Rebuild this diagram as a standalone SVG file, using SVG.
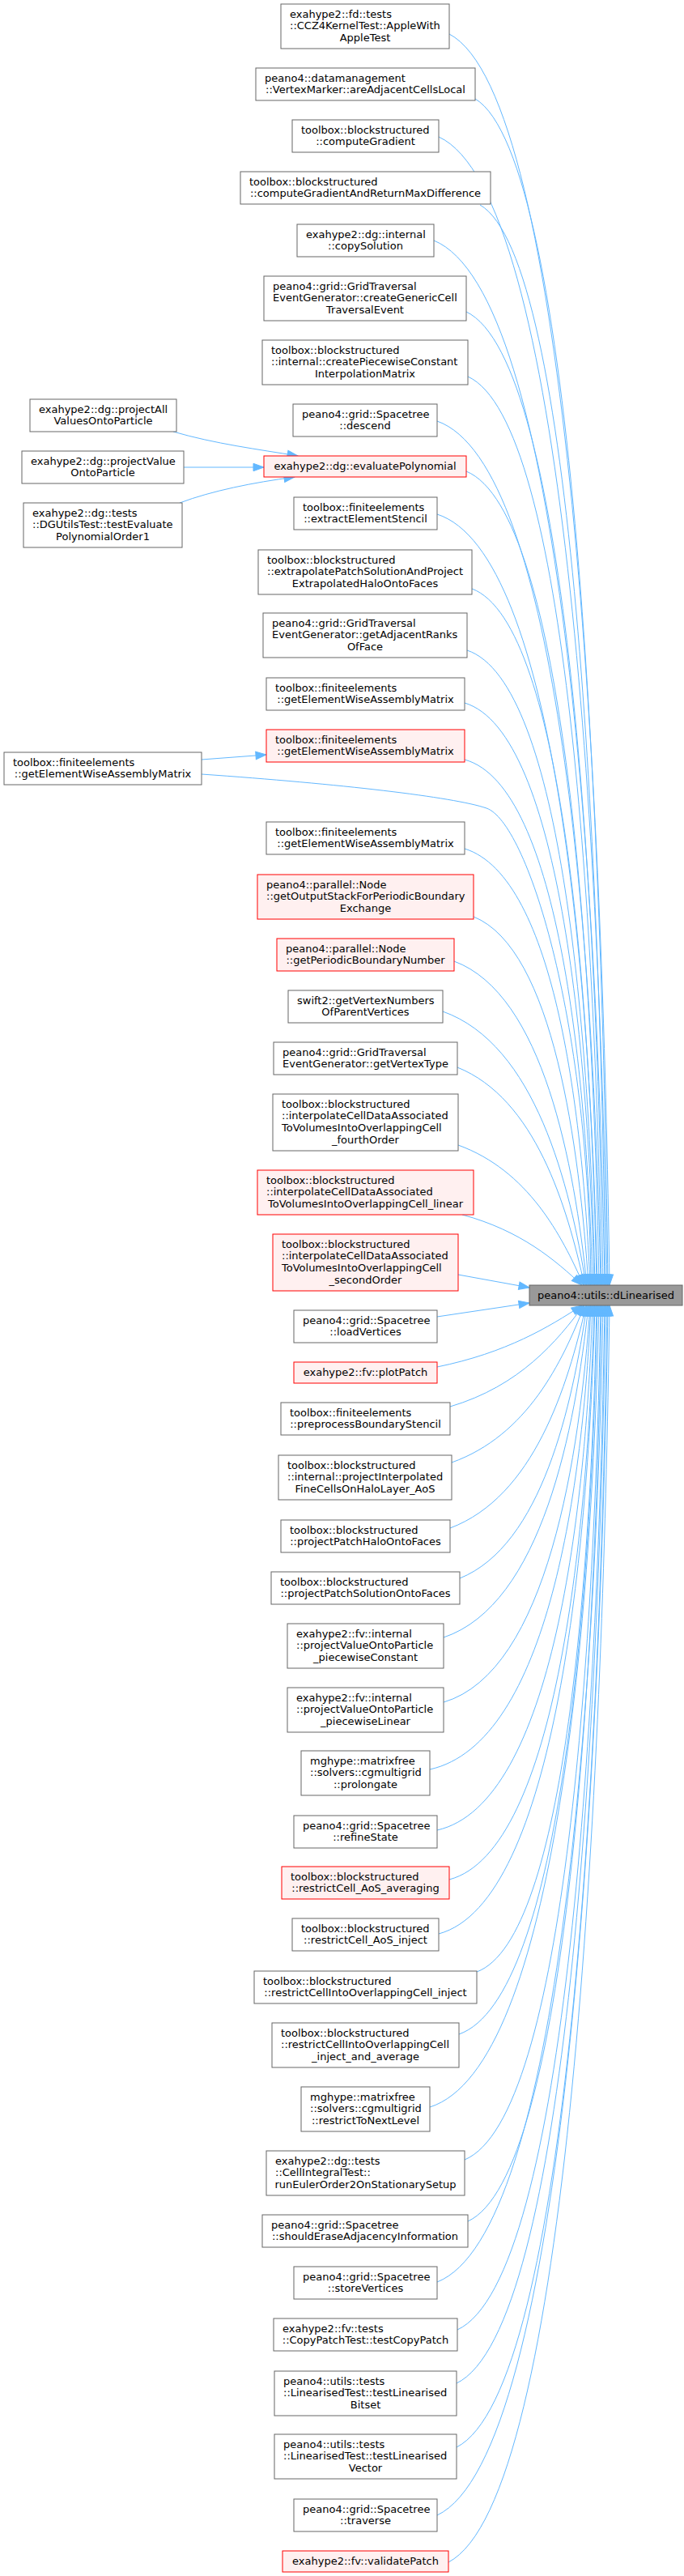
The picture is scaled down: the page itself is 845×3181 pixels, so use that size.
<svg xmlns="http://www.w3.org/2000/svg" width="845" height="3181" viewBox="0 0 845 3181">
<style>
text{font-family:"DejaVu Sans","Liberation Sans",sans-serif;font-size:13px;fill:#000}
.c{text-anchor:middle}
.n rect{fill:#fff;stroke:#666;stroke-width:1}
.r rect{fill:#fff0f0;stroke:#ff0000;stroke-width:1}
.m rect{fill:#999;stroke:#666;stroke-width:1}
.e path{fill:none;stroke:#63b8ff;stroke-width:1;marker-end:url(#a)}
</style>
<defs>
<marker id="a" markerUnits="userSpaceOnUse" viewBox="-14 -6 15 12" markerWidth="15" markerHeight="12" refX="0" refY="0" orient="auto">
<path d="M0,0 L-13,-4.7 L-13,4.7 Z" fill="#63b8ff" stroke="#63b8ff" stroke-width="1"/>
</marker>
</defs>
<rect width="845" height="3181" fill="#fff"/>
<g id="edges" class="e">
<path d="M214,533 C265,548 320,555 368,563"/>
<path d="M227,577 L326,577"/>
<path d="M222,621 C262,606 312,596 364,589"/>
<path d="M249,938 L329,932"/>
<path d="M249,956 C420,968 560,984 601,998 C650,1015 727,1250 730,1587"/>
<path d="M555,42 C703.5,119.3 745.1,999.9 753,1587"/>
<path d="M587,122 C710,195.3 744.4,1030.3 751,1587"/>
<path d="M542,169 C698,239.9 741.7,1048.2 750,1587"/>
<path d="M593,253 C709.3,319.7 741.8,1080.1 748,1587"/>
<path d="M536,297 C694.3,361.5 738.6,1096.8 747,1587"/>
<path d="M576,385 C702.8,445.1 738.2,1130.2 745,1587"/>
<path d="M578,465 C701.8,521.1 736.4,1160.6 743,1587"/>
<path d="M540,520 C691.5,573.4 733.9,1181.5 742,1587"/>
<path d="M576,582 C699,632.3 733.4,1205.1 740,1587"/>
<path d="M540,635 C688.5,682.6 730.1,1225.2 738,1587"/>
<path d="M583,727 C698.5,770 730.8,1260.2 737,1587"/>
<path d="M577,803 C695.5,842.2 728.7,1289.1 735,1587"/>
<path d="M574,868 C694,904 727.6,1313.8 734,1587"/>
<path d="M574,938 C692.5,970.5 725.7,1340.4 732,1587"/>
<path d="M574,1048 C686.8,1083 720.5,1383.3 729,1587"/>
<path d="M585,1132 C683.8,1171.6 715.9,1416.8 727,1587"/>
<path d="M561,1187 C671.4,1227.8 709.6,1438.6 725,1587"/>
<path d="M547,1249 C661.3,1289.6 704,1462.6 724,1587"/>
<path d="M565,1318 C661.1,1356.5 700.5,1489.1 722,1587"/>
<path d="M566,1414 C652.3,1445.3 693.7,1525.1 721,1587"/>
<path d="M571,1500 C643.8,1519.6 686.3,1556.5 719,1587"/>
<path d="M566,1574 L654,1590"/>
<path d="M540,1626 L654,1609"/>
<path d="M540,1688 C626.1,1670.4 678,1638.6 719,1612"/>
<path d="M556,1737 C642.3,1711.5 688.2,1656.2 721,1612"/>
<path d="M558,1806 C651.5,1772.6 694.8,1681.8 722,1612"/>
<path d="M556,1887 C659.3,1848.2 701.3,1712.4 724,1612"/>
<path d="M568,1949 C669.3,1908.2 707.1,1736 725,1612"/>
<path d="M548,2022 C669.4,1981.4 710.7,1764.5 727,1612"/>
<path d="M548,2102 C676.5,2064.3 716.7,1795.7 729,1612"/>
<path d="M531,2185 C678.3,2152.3 720.6,1829.2 730,1612"/>
<path d="M540,2260 C684,2227.6 724.3,1858.2 732,1612"/>
<path d="M555,2321 C689.3,2285.6 726.8,1881.4 734,1612"/>
<path d="M542,2388 C686.8,2349.2 727.3,1906.9 735,1612"/>
<path d="M589,2435 C700,2393.9 731.1,1924.7 737,1612"/>
<path d="M567,2512 C695.3,2467 731.2,1954 738,1612"/>
<path d="M531,2602 C687.8,2552.5 731.6,1988.2 740,1612"/>
<path d="M574,2667 C700,2614.3 735.3,2012.9 742,1612"/>
<path d="M578,2743 C701.8,2686.5 736.4,2041.8 743,1612"/>
<path d="M540,2818 C693.8,2757.7 736.8,2070.3 745,1612"/>
<path d="M565,2877 C701.5,2813.8 739.7,2092.7 747,1612"/>
<path d="M564,2943 C702,2876.5 740.6,2117.8 748,1612"/>
<path d="M564,3022 C703.5,2951.5 742.6,2147.8 750,1612"/>
<path d="M540,3106 C698.3,3031.3 742.6,2179.7 751,1612"/>
<path d="M554,3164 C703.3,3086.4 745,2201.8 753,1612"/>
</g>
<g id="main" class="m"><rect x="654" y="1587" width="189" height="25"/><text class="c" x="748.5" y="1603.5">peano4::utils::dLinearised</text></g>
<g id="nA" class="n"><rect x="37" y="493" width="181" height="40"/><text x="48" y="509.6">exahype2::dg::projectAll</text><text class="c" x="127.5" y="524.3">ValuesOntoParticle</text></g>
<g id="nB" class="n"><rect x="27" y="557" width="200" height="40"/><text x="38" y="573.6">exahype2::dg::projectValue</text><text class="c" x="127" y="588.3">OntoParticle</text></g>
<g id="nC" class="n"><rect x="29" y="621" width="196" height="55"/><text x="40" y="637.6">exahype2::dg::tests</text><text x="40" y="652.3">::DGUtilsTest::testEvaluate</text><text class="c" x="127" y="666.9">PolynomialOrder1</text></g>
<g id="nD" class="n"><rect x="5" y="929" width="244" height="40"/><text x="16" y="945.6">toolbox::finiteelements</text><text class="c" x="127" y="960.3">::getElementWiseAssemblyMatrix</text></g>
<g id="n1" class="n"><rect x="347" y="5" width="208" height="55"/><text x="358" y="21.6">exahype2::fd::tests</text><text x="358" y="36.3">::CCZ4KernelTest::AppleWith</text><text class="c" x="451" y="50.9">AppleTest</text></g>
<g id="n2" class="n"><rect x="316" y="84" width="271" height="40"/><text x="327" y="100.6">peano4::datamanagement</text><text class="c" x="451.5" y="115.3">::VertexMarker::areAdjacentCellsLocal</text></g>
<g id="n3" class="n"><rect x="361" y="148" width="181" height="40"/><text x="372" y="164.6">toolbox::blockstructured</text><text class="c" x="451.5" y="179.3">::computeGradient</text></g>
<g id="n4" class="n"><rect x="297" y="212" width="309" height="40"/><text x="308" y="228.6">toolbox::blockstructured</text><text class="c" x="451.5" y="243.3">::computeGradientAndReturnMaxDifference</text></g>
<g id="n5" class="n"><rect x="367" y="277" width="169" height="40"/><text x="378" y="293.6">exahype2::dg::internal</text><text class="c" x="451.5" y="308.3">::copySolution</text></g>
<g id="n6" class="n"><rect x="326" y="341" width="250" height="55"/><text x="337" y="357.6">peano4::grid::GridTraversal</text><text x="337" y="372.3">EventGenerator::createGenericCell</text><text class="c" x="451" y="386.9">TraversalEvent</text></g>
<g id="n7" class="n"><rect x="324" y="420" width="254" height="55"/><text x="335" y="436.6">toolbox::blockstructured</text><text x="335" y="451.3">::internal::createPiecewiseConstant</text><text class="c" x="451" y="465.9">InterpolationMatrix</text></g>
<g id="n8" class="n"><rect x="362" y="499" width="178" height="40"/><text x="373" y="515.6">peano4::grid::Spacetree</text><text class="c" x="451" y="530.3">::descend</text></g>
<g id="n9" class="r"><rect x="326" y="563" width="250" height="26"/><text class="c" x="451" y="579.6">exahype2::dg::evaluatePolynomial</text></g>
<g id="n10" class="n"><rect x="363" y="614" width="177" height="40"/><text x="374" y="630.6">toolbox::finiteelements</text><text class="c" x="451.5" y="645.3">::extractElementStencil</text></g>
<g id="n11" class="n"><rect x="319" y="679" width="264" height="55"/><text x="330" y="695.6">toolbox::blockstructured</text><text x="330" y="710.3">::extrapolatePatchSolutionAndProject</text><text class="c" x="451" y="724.9">ExtrapolatedHaloOntoFaces</text></g>
<g id="n12" class="n"><rect x="325" y="757" width="252" height="55"/><text x="336" y="773.6">peano4::grid::GridTraversal</text><text x="336" y="788.3">EventGenerator::getAdjacentRanks</text><text class="c" x="451" y="802.9">OfFace</text></g>
<g id="n13" class="n"><rect x="329" y="837" width="245" height="40"/><text x="340" y="853.6">toolbox::finiteelements</text><text class="c" x="451.5" y="868.3">::getElementWiseAssemblyMatrix</text></g>
<g id="n14" class="r"><rect x="329" y="901" width="245" height="40"/><text x="340" y="917.6">toolbox::finiteelements</text><text class="c" x="451.5" y="932.3">::getElementWiseAssemblyMatrix</text></g>
<g id="n15" class="n"><rect x="329" y="1015" width="245" height="40"/><text x="340" y="1031.6">toolbox::finiteelements</text><text class="c" x="451.5" y="1046.3">::getElementWiseAssemblyMatrix</text></g>
<g id="n16" class="r"><rect x="318" y="1080" width="267" height="55"/><text x="329" y="1096.6">peano4::parallel::Node</text><text x="329" y="1111.3">::getOutputStackForPeriodicBoundary</text><text class="c" x="451.5" y="1125.9">Exchange</text></g>
<g id="n17" class="r"><rect x="342" y="1159" width="219" height="40"/><text x="353" y="1175.6">peano4::parallel::Node</text><text class="c" x="451.5" y="1190.3">::getPeriodicBoundaryNumber</text></g>
<g id="n18" class="n"><rect x="356" y="1223" width="191" height="40"/><text x="367" y="1239.6">swift2::getVertexNumbers</text><text class="c" x="451.5" y="1254.3">OfParentVertices</text></g>
<g id="n19" class="n"><rect x="338" y="1287" width="227" height="40"/><text x="349" y="1303.6">peano4::grid::GridTraversal</text><text class="c" x="451.5" y="1318.3">EventGenerator::getVertexType</text></g>
<g id="n20" class="n"><rect x="337" y="1351" width="229" height="70"/><text x="348" y="1367.6">toolbox::blockstructured</text><text x="348" y="1382.3">::interpolateCellDataAssociated</text><text x="348" y="1396.9">ToVolumesIntoOverlappingCell</text><text class="c" x="451.5" y="1411.6">_fourthOrder</text></g>
<g id="n21" class="r"><rect x="318" y="1445" width="267" height="55"/><text x="329" y="1461.6">toolbox::blockstructured</text><text x="329" y="1476.3">::interpolateCellDataAssociated</text><text class="c" x="451.5" y="1490.9">ToVolumesIntoOverlappingCell_linear</text></g>
<g id="n22" class="r"><rect x="337" y="1524" width="229" height="70"/><text x="348" y="1540.6">toolbox::blockstructured</text><text x="348" y="1555.3">::interpolateCellDataAssociated</text><text x="348" y="1569.9">ToVolumesIntoOverlappingCell</text><text class="c" x="451.5" y="1584.6">_secondOrder</text></g>
<g id="n23" class="n"><rect x="363" y="1618" width="177" height="40"/><text x="374" y="1634.6">peano4::grid::Spacetree</text><text class="c" x="451.5" y="1649.3">::loadVertices</text></g>
<g id="n24" class="r"><rect x="363" y="1682" width="177" height="26"/><text class="c" x="451.5" y="1698.6">exahype2::fv::plotPatch</text></g>
<g id="n25" class="n"><rect x="347" y="1732" width="209" height="40"/><text x="358" y="1748.6">toolbox::finiteelements</text><text class="c" x="451.5" y="1763.3">::preprocessBoundaryStencil</text></g>
<g id="n26" class="n"><rect x="344" y="1797" width="214" height="55"/><text x="355" y="1813.6">toolbox::blockstructured</text><text x="355" y="1828.3">::internal::projectInterpolated</text><text class="c" x="451" y="1842.9">FineCellsOnHaloLayer_AoS</text></g>
<g id="n27" class="n"><rect x="347" y="1877" width="209" height="40"/><text x="358" y="1893.6">toolbox::blockstructured</text><text class="c" x="451.5" y="1908.3">::projectPatchHaloOntoFaces</text></g>
<g id="n28" class="n"><rect x="335" y="1941" width="233" height="40"/><text x="346" y="1957.6">toolbox::blockstructured</text><text class="c" x="451.5" y="1972.3">::projectPatchSolutionOntoFaces</text></g>
<g id="n29" class="n"><rect x="355" y="2005" width="193" height="55"/><text x="366" y="2021.6">exahype2::fv::internal</text><text x="366" y="2036.3">::projectValueOntoParticle</text><text class="c" x="451.5" y="2050.9">_piecewiseConstant</text></g>
<g id="n30" class="n"><rect x="355" y="2084" width="193" height="55"/><text x="366" y="2100.6">exahype2::fv::internal</text><text x="366" y="2115.3">::projectValueOntoParticle</text><text class="c" x="451.5" y="2129.9">_piecewiseLinear</text></g>
<g id="n31" class="n"><rect x="372" y="2162" width="159" height="55"/><text x="383" y="2178.6">mghype::matrixfree</text><text x="383" y="2193.3">::solvers::cgmultigrid</text><text class="c" x="451.5" y="2207.9">::prolongate</text></g>
<g id="n32" class="n"><rect x="363" y="2242" width="177" height="40"/><text x="374" y="2258.6">peano4::grid::Spacetree</text><text class="c" x="451.5" y="2273.3">::refineState</text></g>
<g id="n33" class="r"><rect x="348" y="2305" width="207" height="40"/><text x="359" y="2321.6">toolbox::blockstructured</text><text class="c" x="451.5" y="2336.3">::restrictCell_AoS_averaging</text></g>
<g id="n34" class="n"><rect x="361" y="2369" width="181" height="40"/><text x="372" y="2385.6">toolbox::blockstructured</text><text class="c" x="451.5" y="2400.3">::restrictCell_AoS_inject</text></g>
<g id="n35" class="n"><rect x="314" y="2434" width="275" height="40"/><text x="325" y="2450.6">toolbox::blockstructured</text><text class="c" x="451.5" y="2465.3">::restrictCellIntoOverlappingCell_inject</text></g>
<g id="n36" class="n"><rect x="336" y="2498" width="231" height="55"/><text x="347" y="2514.6">toolbox::blockstructured</text><text x="347" y="2529.3">::restrictCellIntoOverlappingCell</text><text class="c" x="451.5" y="2543.9">_inject_and_average</text></g>
<g id="n37" class="n"><rect x="372" y="2577" width="159" height="55"/><text x="383" y="2593.6">mghype::matrixfree</text><text x="383" y="2608.3">::solvers::cgmultigrid</text><text class="c" x="451.5" y="2622.9">::restrictToNextLevel</text></g>
<g id="n38" class="n"><rect x="329" y="2656" width="245" height="55"/><text x="340" y="2672.6">exahype2::dg::tests</text><text x="340" y="2687.3">::CellIntegralTest::</text><text class="c" x="451.5" y="2701.9">runEulerOrder2OnStationarySetup</text></g>
<g id="n39" class="n"><rect x="324" y="2735" width="254" height="40"/><text x="335" y="2751.6">peano4::grid::Spacetree</text><text class="c" x="451" y="2766.3">::shouldEraseAdjacencyInformation</text></g>
<g id="n40" class="n"><rect x="363" y="2799" width="177" height="40"/><text x="374" y="2815.6">peano4::grid::Spacetree</text><text class="c" x="451.5" y="2830.3">::storeVertices</text></g>
<g id="n41" class="n"><rect x="338" y="2863" width="227" height="40"/><text x="349" y="2879.6">exahype2::fv::tests</text><text class="c" x="451.5" y="2894.3">::CopyPatchTest::testCopyPatch</text></g>
<g id="n42" class="n"><rect x="339" y="2928" width="225" height="55"/><text x="350" y="2944.6">peano4::utils::tests</text><text x="350" y="2959.3">::LinearisedTest::testLinearised</text><text class="c" x="451.5" y="2973.9">Bitset</text></g>
<g id="n43" class="n"><rect x="339" y="3006" width="225" height="55"/><text x="350" y="3022.6">peano4::utils::tests</text><text x="350" y="3037.3">::LinearisedTest::testLinearised</text><text class="c" x="451.5" y="3051.9">Vector</text></g>
<g id="n44" class="n"><rect x="363" y="3086" width="177" height="40"/><text x="374" y="3102.6">peano4::grid::Spacetree</text><text class="c" x="451.5" y="3117.3">::traverse</text></g>
<g id="n45" class="r"><rect x="349" y="3150" width="205" height="26"/><text class="c" x="451.5" y="3166.6">exahype2::fv::validatePatch</text></g>
</svg>
